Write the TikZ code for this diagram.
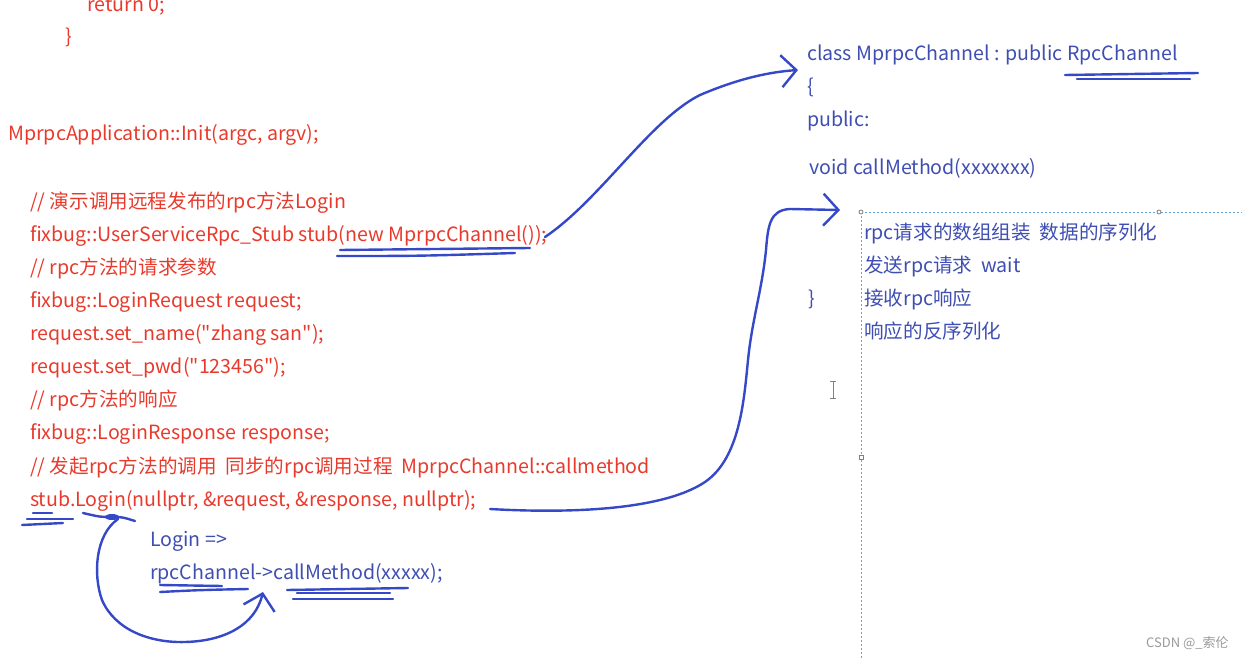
\documentclass[tikz,border=0pt]{standalone}
\usepackage{fontspec}
\setmainfont{Noto Sans CJK SC}[Ligatures=TeXOff]
\usetikzlibrary{arrows.meta}
\definecolor{codered}{RGB}{232,58,44}
\definecolor{codeblue}{RGB}{62,78,178}
\definecolor{penblue}{RGB}{52,72,200}
\definecolor{guide}{RGB}{100,165,220}
\begin{document}
\begin{tikzpicture}[x=1pt,y=-1pt,
  code/.style={anchor=base west, inner sep=0pt, font=\fontsize{19.6}{22}\selectfont},
  rc/.style={code, text=codered},
  bc/.style={code, text=codeblue},
  pen/.style={draw=penblue, line width=2.4pt, line cap=round, line join=round},
  ptip/.style={-{Straight Barb[length=15pt,width=32pt,line width=2.4pt]}},
  guideline/.style={draw=guide, line width=1pt, dash pattern=on 2pt off 2pt},
  handle/.style={draw=gray, line width=0.8pt, fill=white}
]
\useasboundingbox (0,0) rectangle (1242,658);
\clip (0,0) rectangle (1242,658);
% left code (red)
\node[rc] (ret) at (87,12) {return 0;};
\node[rc] (brA) at (65,44) {\}};
\node[rc] (init) at (8,141) {MprpcApplication::Init(argc, argv);};
\node[rc] (c1) at (30,208) {// 演示调用远程发布的rpc方法Login};
\node[rc] (stub) at (30,241) {fixbug::UserServiceRpc\_Stub stub(new MprpcChannel());};
\node[rc] (c2) at (30,274) {// rpc方法的请求参数};
\node[rc] (req) at (30,307) {fixbug::LoginRequest request;};
\node[rc] (setn) at (30,340) {request.set\_name("zhang san");};
\node[rc] (setp) at (30,373) {request.set\_pwd("123456");};
\node[rc] (c3) at (30,406) {// rpc方法的响应};
\node[rc] (resp) at (30,439) {fixbug::LoginResponse response;};
\node[rc] (c4) at (30,473) {// 发起rpc方法的调用\ \ 同步的rpc调用过程\ \ MprpcChannel::callmethod};
\node[rc] (login) at (30,506) {stub.Login(nullptr, \&request, \&response, nullptr);};
% blue notes
\node[bc] (lg) at (150,546) {Login =>};
\node[bc] (rpcch) at (150,579) {rpcChannel->callMethod(xxxxx);};
\node[bc] (cls) at (807,61) {class MprpcChannel : public RpcChannel};
\node[bc] (lb) at (807,94) {\{};
\node[bc] (pub) at (807,127) {public:};
\node[bc] (vcm) at (809,174) {void callMethod(xxxxxxx)};
\node[bc] (rb) at (808,305) {\}};
\node[bc] (s1) at (864,239) {rpc请求的数组组装\ \ 数据的序列化};
\node[bc] (s2) at (864,272) {发送rpc请求\ \ wait};
\node[bc] (s3) at (864,305) {接收rpc响应};
\node[bc] (s4) at (864,338) {响应的反序列化};
\node[anchor=base west, inner sep=0pt, text=gray!80, font=\fontsize{13}{15}\selectfont] (wm) at (1146,647) {CSDN @\_索伦};
% dotted text box guides
\draw[guideline] (861,212) -- (1242,212);
\draw[guideline] (861,212) -- (861,658);
\draw[handle] (861,212) circle (2);
\draw[handle] (1159,212) circle (2);
\draw[handle] (859,455) rectangle (863,459);
% text cursor
\draw[gray, line width=1pt] (833,381) -- (833,398) (830,381) -- (836,381) (830,398) -- (836,398);
% pen strokes
% underline new MprpcChannel()
\draw[pen] (340,250) -- (530,248);
\draw[pen] (337,256) .. controls (420,256) .. (515,253);
% arrow to class
\draw[pen, ptip] (545,237) .. controls (600,200) and (650,120) .. (700,95) .. controls (740,78) and (770,72) .. (798,70);
% underline RpcChannel
\draw[pen] (1065,75) -- (1198,73);
\draw[pen] (1077,79) -- (1190,79);
% stub underline strokes
\draw[pen] (33,513) -- (52,513);
\draw[pen] (27,519) -- (73,519);
\draw[pen] (22,525) -- (63,523);
% Login scribble
\draw[pen] (83,513) .. controls (100,517) .. (112,517) .. controls (122,517) .. (135,521);
\fill[penblue] (112,517) ellipse (7 and 3);
% loop arrow
\draw[pen, ptip] (118,519) .. controls (95,535) and (93,575) .. (102,600) .. controls (115,630) and (150,643) .. (185,642) .. controls (225,641) and (255,625) .. (263,592);
% underline rpcChannel
\draw[pen] (160,585) -- (222,586);
\draw[pen] (160,592) .. controls (200,590) .. (248,589);
% underline callMethod(xxxxx)
\draw[pen] (287,590) -- (408,588);
\draw[pen] (297,593) -- (390,593);
\draw[pen] (293,599) -- (393,599);
% arrow from stub.Login to callMethod body
\draw[pen, ptip] (490,509) .. controls (560,513) and (660,512) .. (705,482) .. controls (740,458) and (744,400) .. (748,360) .. controls (752,320) and (762,290) .. (766,250) .. controls (768,225) and (770,210) .. (790,209) -- (840,210);
\end{tikzpicture}
\end{document}
